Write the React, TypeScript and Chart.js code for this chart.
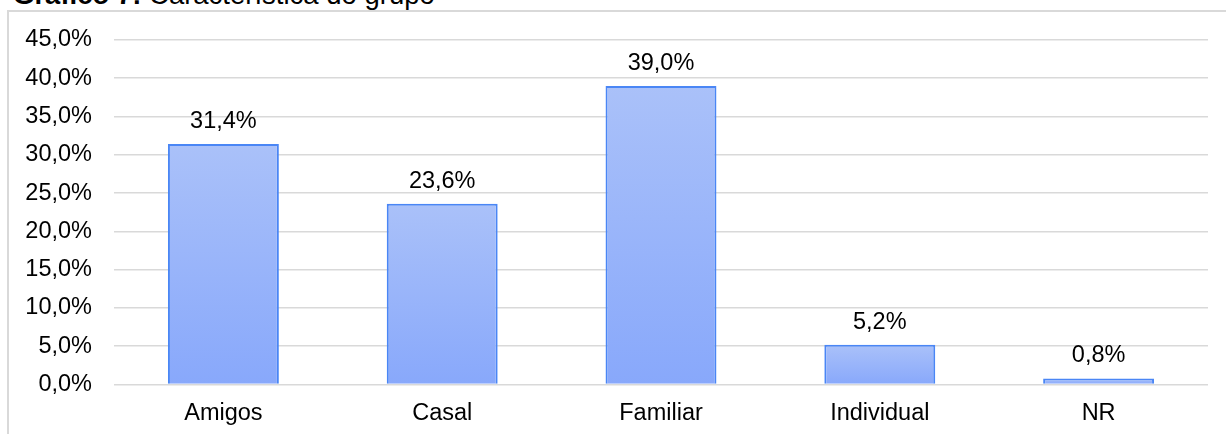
import React, { useEffect, useRef } from "react";
import { Chart, registerables } from "chart.js";

Chart.register(...registerables);

const categories = ["Amigos", "Casal", "Familiar", "Individual", "NR"];
const values = [31.4, 23.6, 39.0, 5.2, 0.8];
const yMin = 0;
const yMax = 45;
const yStep = 5;

const FONT = '"Liberation Sans", Arial, Helvetica, sans-serif';
const fmt = (v: number) => v.toFixed(1).replace(".", ",") + "%";

const labelPlugin = {
  id: "barLabels",
  afterDatasetsDraw(chart: any) {
    const ctx = chart.ctx;
    const meta = chart.getDatasetMeta(0);
    ctx.save();
    ctx.font = `23.5px ${FONT}`;
    ctx.fillStyle = "#000";
    ctx.textAlign = "center";
    ctx.textBaseline = "alphabetic";
    meta.data.forEach((bar: any, i: number) => {
      ctx.fillText(fmt(values[i]), bar.x, bar.y - 16);
    });
    ctx.restore();
  },
};

export default function App() {
  const ref = useRef<HTMLCanvasElement>(null);

  useEffect(() => {
    if (!ref.current) return;
    const chart = new Chart(ref.current, {
      type: "bar",
      data: {
        labels: categories,
        datasets: [
          {
            data: values,
            backgroundColor: (c: any) => {
              const ch = c.chart;
              if (!ch.chartArea || c.raw == null) return "#9bb6f9";
              const ys = ch.scales.y;
              const top = ys.getPixelForValue(c.raw);
              const base = ys.getPixelForValue(0);
              const g = ch.ctx.createLinearGradient(0, top, 0, base + 0.01);
              g.addColorStop(0, "#aac1f9");
              g.addColorStop(1, "#88a8fb");
              return g;
            },
            borderColor: "#4a86f5",
            borderWidth: 2,
            categoryPercentage: 1,
            barPercentage: 0.507,
          },
        ],
      },
      options: {
        responsive: false,
        animation: false,
        devicePixelRatio: 1,
        layout: { padding: { top: 40, right: 18, bottom: 0, left: 0 } },
        plugins: {
          legend: { display: false },
          tooltip: { enabled: false },
          title: { display: false },
        },
        scales: {
          x: {
            grid: { display: false, drawTicks: false },
            border: { display: false },
            ticks: {
              color: "#000",
              padding: 15,
              font: { family: FONT, size: 23.5 },
            },
            afterFit: (s: any) => {
              s.height = 49.5;
            },
          },
          y: {
            min: yMin,
            max: yMax,
            grid: { color: "#d9d9d9", lineWidth: 1.6, drawTicks: false },
            border: { display: false },
            ticks: {
              stepSize: yStep,
              color: "#000",
              padding: 22,
              font: { family: FONT, size: 23.5 },
              callback: (v: any) => fmt(Number(v)),
            },
            afterFit: (s: any) => {
              s.width = 114;
            },
          },
        },
      },
      plugins: [labelPlugin],
    });
    return () => chart.destroy();
  }, []);

  return (
    <div
      style={{
        position: "fixed",
        left: 0,
        top: 0,
        width: 1226,
        height: 434,
        overflow: "hidden",
        background: "#fff",
      }}
    >
      <div
        style={{
          position: "absolute",
          left: 13,
          top: -19,
          fontFamily: FONT,
          fontSize: 27.5,
          lineHeight: "27px",
          whiteSpace: "nowrap",
          color: "#000",
        }}
      >
        <b>Gráfico 7:</b> Característica do grupo
      </div>
      <div
        style={{
          position: "absolute",
          left: 7,
          top: 10,
          width: 1240,
          height: 450,
          borderLeft: "2px solid #d9d9d9",
          borderTop: "2px solid #d9d9d9",
          boxSizing: "border-box",
        }}
      />
      <canvas
        ref={ref}
        width={1226}
        height={434}
        style={{ position: "absolute", left: 0, top: 0, width: 1226, height: 434 }}
      />
    </div>
  );
}
